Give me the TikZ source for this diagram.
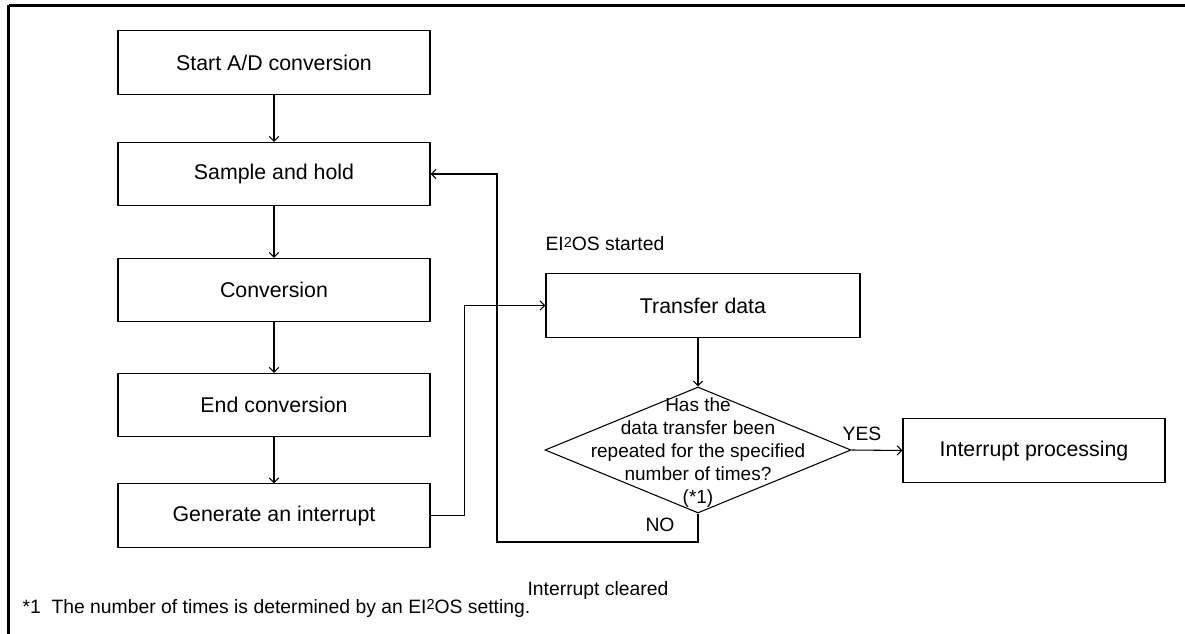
\documentclass[tikz,border=0pt]{standalone}
\usepackage{fontspec}
\setmainfont{Liberation Sans}
\usetikzlibrary{shapes.geometric,arrows.meta}
\newcommand{\eios}{EI\raisebox{0.3ex}{\scalebox{0.75}{2}}OS}

\begin{document}
\begin{tikzpicture}[x=0.75pt,y=-0.75pt,line width=0.8pt,
    >={Straight Barb[length=3.5pt,width=7pt]},
    box/.style={draw,minimum width=234pt,minimum height=47.5pt,font=\fontsize{16}{19}\selectfont},
    lbl/.style={font=\fontsize{14.5}{17}\selectfont,inner sep=0pt}]
    \useasboundingbox (0,0) rectangle (1185,634);

    % Frame
    \draw[line width=1.9pt] (8.5,5.5) -- (1185,5.5);
    \draw[line width=1.9pt] (8.5,5.5) -- (8.5,634);

    % A/D steps
    \node[box] (start) at (274,62.5) {Start A/D conversion};
    \node[box] (sample) at (274,174) {Sample and hold};
    \node[box] (conv) at (274,290) {Conversion};
    \node[box] (endconv) at (274,405) {End conversion};
    \node[box] (gen) at (274,515.5) {Generate an interrupt};
    \foreach \a/\b in {start/sample, sample/conv, conv/endconv, endconv/gen} {
        \draw[->] (\a) -- (\b);
    }

    % EI2OS side
    \node[lbl,anchor=west] (started) at (545,244) {\eios{} started};
    \node[box,minimum width=235.5pt] (transfer) at (703,305.5) {Transfer data};
    \node[draw,diamond,minimum width=229.5pt,minimum height=94.5pt,inner sep=0pt] (check) at (698,450) {};
    \node[align=center,font=\fontsize{14.25}{17.25}\selectfont,inner sep=0pt] (checktext) at (698,453)
        {Has the\\data transfer been\\repeated for the specified\\number of times?\\(*1)};
    \node[box,minimum width=196.5pt] (proc) at (1034,450.5) {Interrupt processing};

    \draw[->] (gen.east) -- ++(34,0) |- (transfer.west);
    \draw[->] (check.north |- transfer.south) -- (check.north);
    \draw[->] (check.east) -- (proc.west);
    \node[lbl] (yes) at (862,434) {YES};

    % Loop back
    \coordinate (back) at (497,542);
    \draw[->] (check.south) |- (back) |- (sample.east);
    \node[lbl] (no) at (660,525) {NO};
    \node[lbl] (cleared) at (598,590) {Interrupt cleared};

    % Footnote
    \node[lbl,anchor=west] (note) at (22,608) {*1\ \ The number of times is determined by an \eios{} setting.};
\end{tikzpicture}
\end{document}
